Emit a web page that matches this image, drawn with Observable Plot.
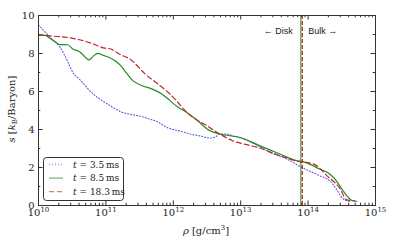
<!DOCTYPE html>
<html><head><meta charset="utf-8">
<script src="https://cdn.jsdelivr.net/npm/d3@7"></script>
<script src="https://cdn.jsdelivr.net/npm/@observablehq/plot@0.6"></script>
<style>body{margin:0;background:#fff} svg{display:block} #chart{width:395px;height:244px}</style>
</head><body><div id="chart"></div>
<script>
// log10(rho) and entropy values for each time
const logRho35 = [10.00,10.17,10.32,10.43,10.51,10.62,10.72,10.81,10.91,11.06,11.21,11.36,11.51,11.65,11.77,11.91,12.10,12.25,12.40,12.54,12.62,12.69,12.80,12.88,13.00,13.28,13.43,13.68,13.91,14.17,14.32,14.42,14.50,14.57,14.62];
const s35      = [9.50,8.86,8.33,7.60,7.00,6.60,6.20,5.87,5.60,5.26,4.95,4.80,4.70,4.55,4.40,4.10,3.92,3.76,3.66,3.55,3.60,3.76,3.76,3.67,3.55,3.10,2.80,2.45,2.00,1.57,1.30,0.86,0.42,0.25,0.22];
const logRho85 = [10.00,10.10,10.17,10.25,10.32,10.43,10.51,10.62,10.72,10.75,10.81,10.88,10.96,11.06,11.21,11.31,11.40,11.54,11.68,11.83,11.95,12.07,12.20,12.35,12.50,12.69,12.84,12.99,13.28,13.58,13.83,13.91,14.17,14.32,14.42,14.52,14.62,14.66,14.72];
const s85      = [8.95,8.95,8.80,8.60,8.47,8.46,8.24,8.07,7.72,7.66,7.85,8.01,7.90,7.78,7.40,6.95,6.57,6.30,6.14,5.87,5.52,5.17,4.90,4.50,4.03,3.76,3.67,3.58,3.15,2.71,2.36,2.32,1.92,1.66,1.30,0.77,0.34,0.25,0.22];
const logRho183 = [10.00,10.17,10.47,10.77,10.96,11.06,11.21,11.36,11.58,11.77,11.95,12.10,12.20,12.35,12.50,12.69,12.88,13.09,13.28,13.48,13.68,13.88,14.02,14.10,14.27,14.48,14.57,14.69];
const s183      = [9.00,8.93,8.82,8.56,8.30,8.25,7.95,7.70,6.93,6.40,5.87,5.30,4.90,4.50,4.20,3.76,3.41,3.20,3.03,2.76,2.50,2.30,2.24,2.15,1.60,0.85,0.30,0.25];
const seriesNames = ["t = 3.5 ms", "t = 8.5 ms", "t = 18.3 ms"];
const seriesColors = ["#5b5bd6", "#228b22", "#c0262a"];
const seriesDash = ["1,2", null, "5,3"];
const boundaryRho = [7.8e13, 8.2e13];   // disk/bulk boundary for t=8.5, t=18.3
const xMajor = [1e10, 1e11, 1e12, 1e13, 1e14, 1e15];
const yMajor = [0, 2, 4, 6, 8, 10];
const yMinor = [1, 3, 5, 7, 9];

const xMinor = [];
for (let e = 10; e < 15; e++) for (let m = 2; m <= 9; m++) xMinor.push(m * 10 ** e);

const mk = (lr, s) => lr.map((l, i) => ({rho: 10 ** l, s: s[i]}));
const d35 = mk(logRho35, s35), d85 = mk(logRho85, s85), d183 = mk(logRho183, s183);

const tickCol = "#333";
const plot = Plot.plot({
  width: 395, height: 244,
  marginLeft: 38, marginRight: 20, marginTop: 15, marginBottom: 39,
  style: {fontFamily: "DejaVu Serif, serif", fontSize: "10px", background: "#fff", color: "#222"},
  x: {type: "log", domain: [1e10, 1e15]},
  y: {domain: [0, 10]},
  marks: [
    Plot.axisX({ticks: xMajor, tickSize: 0, tickPadding: 3, tickFormat: d => "10^" + Math.round(Math.log10(d)), label: null, fontSize: 10}),
    Plot.axisY({ticks: yMajor, tickSize: 0, tickPadding: 4, label: null, fontSize: 10}),
    // ticks inward (bottom/top/left/right)
    Plot.ruleX(xMajor, {x: d => d, y1: 0, y2: 0.24, stroke: tickCol}),
    Plot.ruleX(xMajor, {x: d => d, y1: 10, y2: 9.76, stroke: tickCol}),
    Plot.ruleX(xMinor, {x: d => d, y1: 0, y2: 0.12, stroke: tickCol}),
    Plot.ruleX(xMinor, {x: d => d, y1: 10, y2: 9.88, stroke: tickCol}),
    Plot.ruleY(yMajor, {y: d => d, x1: 1e10, x2: 10 ** (10 + 4.5 / 67.5), stroke: tickCol}),
    Plot.ruleY(yMajor, {y: d => d, x1: 1e15, x2: 10 ** (15 - 4.5 / 67.5), stroke: tickCol}),
    Plot.ruleY(yMinor, {y: d => d, x1: 1e10, x2: 10 ** (10 + 2.3 / 67.5), stroke: tickCol}),
    Plot.ruleY(yMinor, {y: d => d, x1: 1e15, x2: 10 ** (15 - 2.3 / 67.5), stroke: tickCol}),
    Plot.line(d35, {x: "rho", y: "s", stroke: seriesColors[0], strokeWidth: 1.1, strokeDasharray: seriesDash[0], curve: "monotone-x"}),
    Plot.line(d85, {x: "rho", y: "s", stroke: seriesColors[1], strokeWidth: 1.2, curve: "monotone-x"}),
    Plot.line(d183, {x: "rho", y: "s", stroke: seriesColors[2], strokeWidth: 1.2, strokeDasharray: seriesDash[2], curve: "monotone-x"}),
    Plot.ruleX([boundaryRho[0]], {x: d => d, stroke: seriesColors[1], strokeWidth: 1.3, strokeOpacity: 0.8}),
    Plot.ruleX([boundaryRho[1]], {x: d => d, stroke: seriesColors[2], strokeWidth: 1.3, strokeDasharray: "4,2"}),
    Plot.text(["← Disk"], {x: boundaryRho[0], y: 9.16, text: d => d, textAnchor: "end", dx: -8, fontFamily: "Liberation Sans, Arial, sans-serif", fontSize: 9, fill: "#222"}),
    Plot.text(["Bulk →"], {x: boundaryRho[1], y: 9.16, text: d => d, textAnchor: "start", dx: 6, fontFamily: "Liberation Sans, Arial, sans-serif", fontSize: 9, fill: "#222"}),
    Plot.frame({stroke: "#333", strokeWidth: 1})
  ]
});
document.getElementById("chart").appendChild(plot);

const svg = d3.select(plot);
// superscript exponents on x tick labels
svg.selectAll('g[aria-label="x-axis tick label"] text').each(function () {
  const t = d3.select(this);
  const [b, e] = t.text().split("^");
  t.text(b);
  t.append("tspan").attr("dy", "-0.45em").attr("font-size", "7px").text(e);
});

// axis labels
const yl = svg.append("text").attr("transform", "translate(15,109) rotate(-90)")
  .attr("text-anchor", "middle").attr("font-size", "10px").attr("fill", "#222");
yl.append("tspan").attr("font-style", "italic").text("s");
yl.append("tspan").text(" [");
yl.append("tspan").attr("font-style", "italic").text("k");
yl.append("tspan").attr("font-size", "7px").attr("dy", "2").text("B");
yl.append("tspan").attr("dy", "-2").text("/Baryon]");

const xl = svg.append("text").attr("x", 206).attr("y", 234)
  .attr("text-anchor", "middle").attr("font-size", "10px").attr("fill", "#222");
xl.append("tspan").attr("font-style", "italic").text("ρ");
xl.append("tspan").text(" [g/cm");
xl.append("tspan").attr("font-size", "7px").attr("dy", "-4").text("3");
xl.append("tspan").attr("dy", "4").text("]");

// legend
const lg = svg.append("g").attr("text-anchor", "start");
lg.append("rect").attr("x", 43.5).attr("y", 157.5).attr("width", 80).attr("height", 43)
  .attr("rx", 3).attr("fill", "#fff").attr("stroke", "#333").attr("stroke-width", 1);
seriesNames.forEach((name, i) => {
  const y = 164.5 + i * 13.6;
  lg.append("line").attr("x1", 49).attr("x2", 63).attr("y1", y).attr("y2", y)
    .attr("stroke", seriesColors[i]).attr("stroke-width", 1.3).attr("stroke-opacity", 0.6)
    .attr("stroke-dasharray", seriesDash[i]);
  const tx = lg.append("text").attr("x", 73).attr("y", y + 3.3).attr("text-anchor", "start")
    .attr("font-size", "9px").attr("fill", "#222");
  const [tv, rest] = name.split(" = ");
  tx.append("tspan").attr("font-style", "italic").text(tv);
  tx.append("tspan").text(" = " + rest.replace(" ms", "\u2009ms"));
});
</script>
</body></html>
